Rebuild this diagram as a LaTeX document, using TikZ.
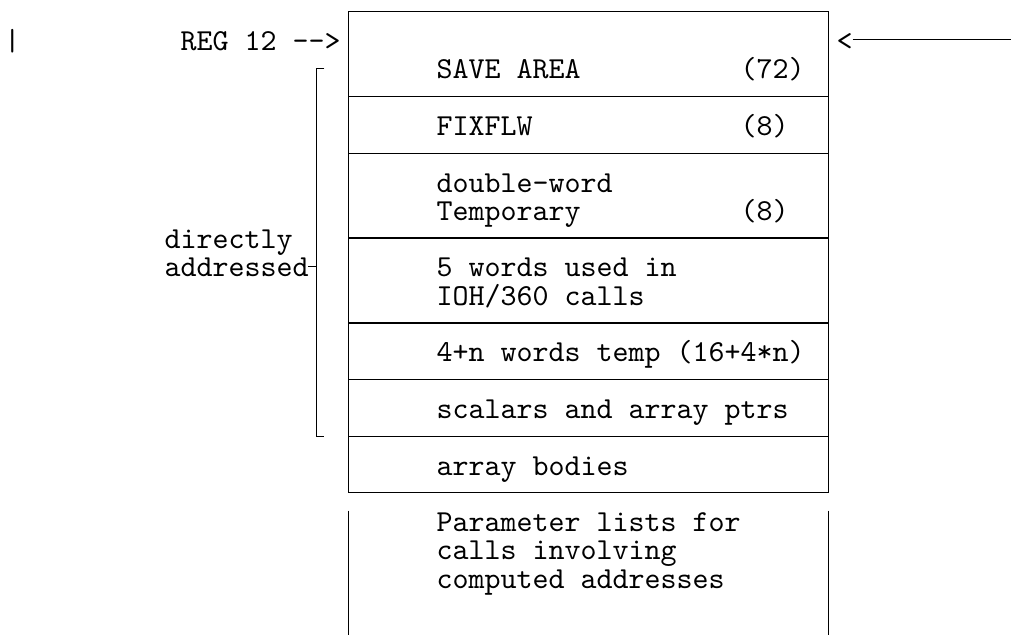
\documentclass[tikz,border=0pt]{standalone}
\usepackage{fontspec}
\newfontfamily\monofont{lmmono10-regular.otf}
\newcommand{\cl}[1]{4.3+16*#1}
\newcommand{\rc}[1]{13.2+28.3*#1}
\begin{document}
\begin{tikzpicture}[
    x=1pt, y=-1pt,
    txt/.style={font=\monofont\fontsize{30.48}{28.3}\selectfont, inner sep=0pt, anchor=base west},
    rule/.style={draw, line width=1.3pt}
]
\useasboundingbox (0,0) rectangle (1011,635);
\coordinate (tl) at ({\cl{21}+8},{\rc{0}-2});
\coordinate (br) at ({\cl{51}+8},{\rc{17}-1.5});
\draw[rule] (tl) rectangle (br);
\foreach \r in {3,5,8,11,13,15}
    \draw[rule] ({\cl{21}+8},{\rc{\r}-1.5}) -- ({\cl{51}+8},{\rc{\r}-1.5});
\draw[rule] ({\cl{21}+8},{\rc{18}-12}) -- ({\cl{21}+8},635);
\draw[rule] ({\cl{51}+8},{\rc{18}-12}) -- ({\cl{51}+8},635);

\node[txt] (bar) at ({\cl{0}},{\rc{1}+9}) {|};
\node[txt] (reg) at ({\cl{11}},{\rc{1}+9}) {REG 12 -{}->};
\node[txt] (lt) at ({\cl{52}},{\rc{1}+9}) {<};
\coordinate (rend) at (1011,{\rc{1}-2});
\draw[rule] (lt.east |- rend) -- (rend);

\node[txt] (save) at ({\cl{27}},{\rc{2}+9}) {SAVE AREA};
\node[txt] (savesz) at ({\cl{46}},{\rc{2}+9}) {(72)};
\node[txt] (fix) at ({\cl{27}},{\rc{4}+9}) {FIXFLW};
\node[txt] (fixsz) at ({\cl{46}},{\rc{4}+9}) {(8)};
\node[txt] (dbl) at ({\cl{27}},{\rc{6}+9}) {double-word};
\node[txt] (tmp) at ({\cl{27}},{\rc{7}+9}) {Temporary};
\node[txt] (tmpsz) at ({\cl{46}},{\rc{7}+9}) {(8)};
\node[txt] (five) at ({\cl{27}},{\rc{9}+9}) {5 words used in};
\node[txt] (ioh) at ({\cl{27}},{\rc{10}+9}) {IOH/360 calls};
\node[txt] (temp) at ({\cl{27}},{\rc{12}+9}) {4+n words temp (16+4*n)};
\node[txt] (scal) at ({\cl{27}},{\rc{14}+9}) {scalars and array ptrs};
\node[txt] (arrb) at ({\cl{27}},{\rc{16}+9}) {array bodies};
\node[txt] (parm) at ({\cl{27}},{\rc{18}+9}) {Parameter lists for};
\node[txt] (calls) at ({\cl{27}},{\rc{19}+9}) {calls involving};
\node[txt] (comp) at ({\cl{27}},{\rc{20}+9}) {computed addresses};

\node[txt] (dir) at ({\cl{10}},{\rc{8}+9}) {directly};
\node[txt] (addr) at ({\cl{10}},{\rc{9}+9}) {addressed};
\draw[rule] ({\cl{20}},{\rc{2}-1.5}) -| ({\cl{19}+8},{\rc{15}-1.5}) -- ({\cl{20}},{\rc{15}-1.5});
\draw[rule] ({\cl{19}},{\rc{9}-1.5}) -- ({\cl{19}+8},{\rc{9}-1.5});
\end{tikzpicture}
\end{document}
